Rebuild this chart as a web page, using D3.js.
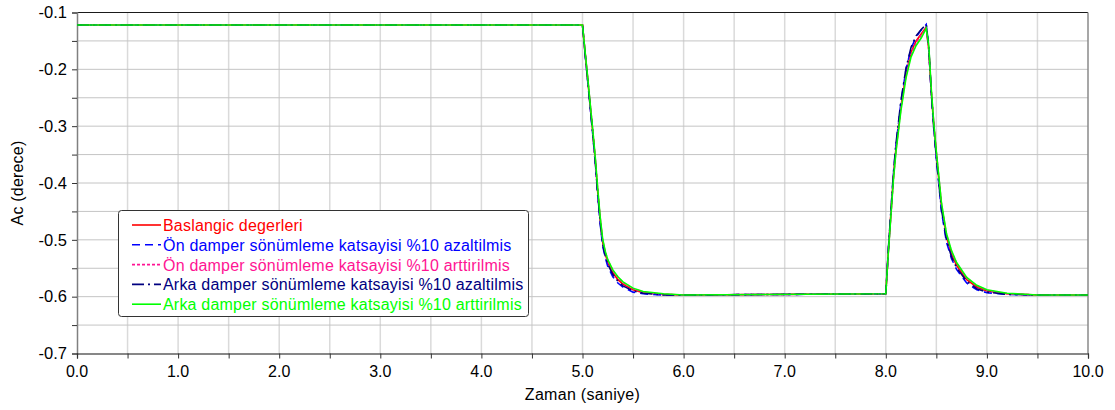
<!DOCTYPE html>
<html>
<head>
<meta charset="utf-8">
<script src="https://cdn.jsdelivr.net/npm/d3@7"></script>
<style>
  html, body { margin: 0; padding: 0; background: #fff; }
  svg { display: block; font-family: "Liberation Sans", Arial, sans-serif; }
</style>
</head>
<body>
<svg id="chart" width="1115" height="410"></svg>
<script>
// Time samples (s)
const time = [0, 5.0, 5.025, 5.05, 5.075, 5.1, 5.125, 5.15, 5.175, 5.2, 5.225, 5.25, 5.3, 5.35, 5.4, 5.5, 5.6, 5.8, 6.0,
  8.0, 8.025, 8.05, 8.075, 8.1, 8.15, 8.2, 8.25, 8.3, 8.35, 8.4, 8.425, 8.45, 8.475, 8.5, 8.55, 8.6, 8.65, 8.7, 8.8, 8.9, 9.0, 9.2, 9.5, 10.0];

// Ac angle (derece) for each configuration
const baslangic = [-0.122, -0.122, -0.170, -0.215, -0.262, -0.308, -0.357, -0.415, -0.466, -0.505, -0.525, -0.540, -0.558, -0.570, -0.578, -0.588, -0.593, -0.596, -0.597,
  -0.595, -0.520, -0.455, -0.390, -0.340, -0.265, -0.208, -0.170, -0.150, -0.138, -0.126, -0.165, -0.240, -0.300, -0.350, -0.440, -0.495, -0.525, -0.545, -0.570, -0.583, -0.590, -0.595, -0.597, -0.597];
const onAzaltilmis = [-0.122, -0.122, -0.172, -0.218, -0.266, -0.312, -0.362, -0.421, -0.472, -0.511, -0.531, -0.547, -0.565, -0.576, -0.583, -0.592, -0.595, -0.597, -0.597,
  -0.595, -0.518, -0.452, -0.386, -0.335, -0.258, -0.200, -0.163, -0.143, -0.131, -0.121, -0.162, -0.244, -0.306, -0.357, -0.449, -0.504, -0.533, -0.552, -0.576, -0.588, -0.593, -0.596, -0.597, -0.597];
const onArttirilmis = [-0.122, -0.122, -0.169, -0.213, -0.260, -0.305, -0.354, -0.411, -0.462, -0.501, -0.521, -0.536, -0.554, -0.566, -0.575, -0.586, -0.592, -0.596, -0.597,
  -0.595, -0.521, -0.457, -0.392, -0.343, -0.268, -0.211, -0.173, -0.153, -0.140, -0.128, -0.166, -0.238, -0.297, -0.346, -0.436, -0.491, -0.521, -0.541, -0.567, -0.581, -0.589, -0.595, -0.597, -0.597];
const arkaAzaltilmis = [-0.122, -0.122, -0.171, -0.217, -0.264, -0.310, -0.360, -0.418, -0.469, -0.508, -0.528, -0.543, -0.561, -0.573, -0.581, -0.590, -0.594, -0.597, -0.597,
  -0.595, -0.517, -0.450, -0.383, -0.332, -0.255, -0.198, -0.161, -0.141, -0.130, -0.121, -0.160, -0.242, -0.304, -0.355, -0.446, -0.500, -0.530, -0.549, -0.573, -0.586, -0.592, -0.596, -0.597, -0.597];
const arkaArttirilmis = [-0.122, -0.122, -0.168, -0.212, -0.259, -0.304, -0.352, -0.409, -0.460, -0.499, -0.520, -0.535, -0.553, -0.565, -0.574, -0.585, -0.591, -0.595, -0.597,
  -0.595, -0.522, -0.459, -0.395, -0.346, -0.272, -0.215, -0.178, -0.158, -0.145, -0.128, -0.158, -0.235, -0.296, -0.345, -0.434, -0.489, -0.519, -0.540, -0.566, -0.580, -0.588, -0.594, -0.597, -0.597];

const seriesNames = [
  "Baslangic degerleri",
  "Ön damper sönümleme katsayisi %10 azaltilmis",
  "Ön damper sönümleme katsayisi %10 arttirilmis",
  "Arka damper sönümleme katsayisi %10 azaltilmis",
  "Arka damper sönümleme katsayisi %10 arttirilmis"
];
const seriesValues = [baslangic, onAzaltilmis, onArttirilmis, arkaAzaltilmis, arkaArttirilmis];
const seriesColors = ["#ff0000", "#0000ff", "#ff1493", "#000080", "#00ff00"];
const seriesDash = [null, "8,5", "3,2", "12,4,2,4", null];

const xTickLabels = ["0.0", "1.0", "2.0", "3.0", "4.0", "5.0", "6.0", "7.0", "8.0", "9.0", "10.0"];
const yTickLabels = ["-0.1", "-0.2", "-0.3", "-0.4", "-0.5", "-0.6", "-0.7"];

const svg = d3.select("#chart");
const m = { left: 77, right: 1088, top: 12.5, bottom: 353.5 };

const x = d3.scaleLinear().domain([0, 10]).range([m.left, m.right]);
const y = d3.scaleLinear().domain([-0.7, -0.1]).range([m.bottom, m.top]);

const xMinor = d3.range(0, 10.001, 0.5);
const yMinor = d3.range(-0.7, -0.0999, 0.05);

// Grid
const grid = svg.append("g");
grid.selectAll("line.v").data(xMinor.slice(1, -1)).join("line")
  .attr("x1", d => x(d)).attr("x2", d => x(d))
  .attr("y1", m.top).attr("y2", m.bottom)
  .attr("stroke", "#dadada").attr("stroke-width", 1.5);
grid.selectAll("line.h").data(yMinor.slice(1, -1)).join("line")
  .attr("x1", m.left).attr("x2", m.right)
  .attr("y1", d => y(d)).attr("y2", d => y(d))
  .attr("stroke", "#c4c4c4").attr("stroke-width", 1);

// Frame
svg.append("line").attr("x1", m.left).attr("x2", m.right).attr("y1", m.top).attr("y2", m.top)
  .attr("stroke", "#1a1a1a").attr("stroke-width", 1.2);
svg.append("line").attr("x1", m.right).attr("x2", m.right).attr("y1", m.top).attr("y2", m.bottom)
  .attr("stroke", "#8a8a8a").attr("stroke-width", 1.5);

// Axes
const yAxis = d3.axisLeft(y).tickValues(yMinor).tickSize(5).tickFormat("");
const gy = svg.append("g").attr("transform", `translate(${m.left},0)`).call(yAxis);
gy.select(".domain").attr("stroke", "#808080").attr("stroke-width", 1.5);
gy.selectAll(".tick line").attr("stroke", "#333");

const xAxis = d3.axisBottom(x).tickValues(xMinor).tickSize(5).tickFormat("");
const gx = svg.append("g").attr("transform", `translate(0,${m.bottom})`).call(xAxis);
gx.select(".domain").attr("stroke", "#111").attr("stroke-width", 1.2);
gx.selectAll(".tick line").attr("stroke", "#333");

// Tick labels
svg.append("g").selectAll("text").data(yTickLabels).join("text")
  .attr("x", 67).attr("y", d => y(+d)).attr("dy", "0.35em")
  .attr("text-anchor", "end").attr("font-size", 16.5).attr("fill", "#000")
  .text(d => d);
svg.append("g").selectAll("text").data(xTickLabels).join("text")
  .attr("x", d => x(+d)).attr("y", 377)
  .attr("text-anchor", "middle").attr("font-size", 16).attr("fill", "#000")
  .text(d => d);

// Axis titles
svg.append("text").attr("x", (m.left + m.right) / 2).attr("y", 400)
  .attr("text-anchor", "middle").attr("font-size", 16).attr("letter-spacing", 0.3).text("Zaman (saniye)");
svg.append("text").attr("transform", `translate(23,${(m.top + m.bottom) / 2}) rotate(-90)`)
  .attr("text-anchor", "middle").attr("font-size", 16).attr("letter-spacing", 0.2).text("Ac (derece)");

// Series lines
const line = d3.line().x((d, i) => x(time[i])).y(d => y(d));
const lines = svg.append("g");
seriesValues.forEach((vals, k) => {
  lines.append("path").datum(vals)
    .attr("d", line)
    .attr("fill", "none")
    .attr("stroke", seriesColors[k])
    .attr("stroke-width", 1.6)
    .attr("stroke-dasharray", seriesDash[k]);
});

// Legend
const lg = svg.append("g");
lg.append("rect").attr("x", 118.5).attr("y", 210.5).attr("width", 410).attr("height", 106)
  .attr("rx", 3).attr("fill", "#fff").attr("stroke", "#333").attr("stroke-width", 1);
seriesNames.forEach((name, k) => {
  const cy = 225 + k * 19.8;
  lg.append("line").attr("x1", 132).attr("x2", 161).attr("y1", cy).attr("y2", cy)
    .attr("stroke", seriesColors[k]).attr("stroke-width", 1.6)
    .attr("stroke-dasharray", seriesDash[k]);
  lg.append("text").attr("x", 163).attr("y", cy + 6)
    .attr("font-size", 16).attr("letter-spacing", 0.2).attr("fill", seriesColors[k]).text(name);
});
</script>
</body>
</html>
